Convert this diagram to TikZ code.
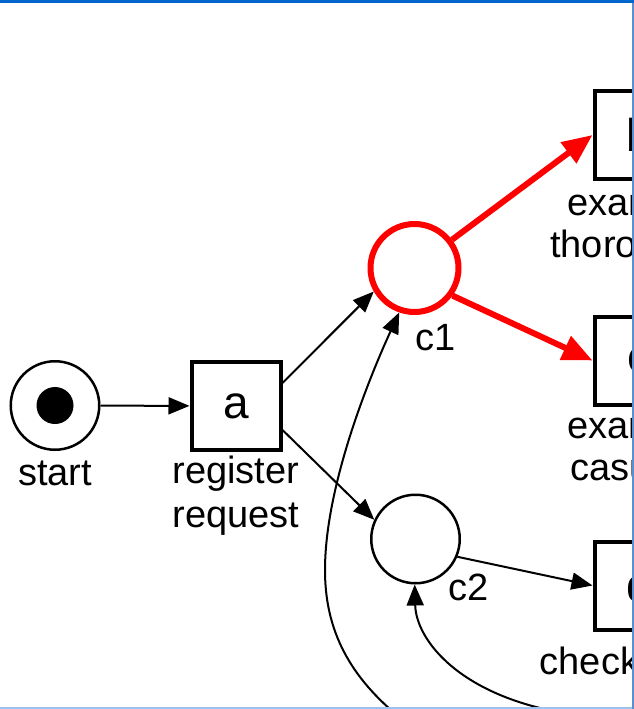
\documentclass[tikz,border=0pt]{standalone}
\usepackage{fontspec}
\setmainfont{Liberation Sans}
\usetikzlibrary{arrows.meta,calc}
\definecolor{topblue}{RGB}{0,102,204}
\definecolor{sideblue}{RGB}{90,143,208}
\definecolor{botblue}{RGB}{156,195,240}
\begin{document}
\begin{tikzpicture}[x=1pt,y=-1pt,
  place/.style={circle,draw,line width=2.5pt,minimum size=88.5pt,inner sep=0pt},
  redplace/.style={circle,draw=red,line width=6pt,minimum size=88pt,inner sep=0pt},
  trans/.style={rectangle,draw,line width=4pt,minimum width=89pt,minimum height=88pt,inner sep=0pt,font=\fontsize{46}{50}\selectfont},
  lbl/.style={font=\fontsize{38}{44}\selectfont,anchor=base,inner sep=0pt},
  arc/.style={line width=2pt,-{Triangle[length=21pt,width=17pt]}},
  redarc/.style={line width=6pt,draw=red,-{Triangle[length=30pt,width=25pt]}}]
\fill[white] (0,0) rectangle (634,709);
\begin{scope}
\clip (0,3) rectangle (632,707);
% places
\node[place] (start) at (55,405.5) {};
\node[circle,fill,inner sep=0pt,minimum size=37pt] (tok) at (start) {};
\node[redplace] (c1) at (414.5,268) {};
\node[place] (c2) at (415.5,539) {};
% transitions
\node[trans] (a) at (236,406) {a};
\node[trans] (b) at (639,135) {b};
\node[trans] (c) at (639,360.5) {c};
\node[trans] (d) at (639,585.5) {d};
% labels
\node[lbl] (lstart) at (55,485) {start};
\node[lbl] (la1) at (236,483) {register};
\node[lbl] (la2) at (236,527) {request};
\node[lbl] (lc1) at (436,350) {c1};
\node[lbl] (lc2) at (469,600) {c2};
\node[lbl] (lb1) at (639,215) {examine};
\node[lbl] (lb2) at (639,257) {thoroughly};
\node[lbl] (lcc1) at (639,438) {examine};
\node[lbl] (lcc2) at (639,480) {casually};
\node[lbl] (ld1) at (639,674) {check ticket};
% arcs
\draw[arc] (start) -- (a);
\draw[arc] ($(a.east)+(0,-23)$) -- (c1.210);
\draw[arc] ($(a.east)+(0,24)$) -- (c2.155);
\draw[arc] (c2.-23) -- (d.west);
\draw[redarc] (c1.37) -- (b.west);
\draw[redarc] (c1.-36) -- (c.west);
\coordinate (f1) at (398,716);
\coordinate (f2) at (570,714);
\draw[arc] (f1) .. controls (345,672) and (325,625) .. (325,570)
  .. controls (325,480) and (376,363) .. (c1.-109);
\draw[arc] (f2) .. controls (460,697) and (416,640) .. (c2.-91);
\end{scope}
\fill[topblue] (0,0) rectangle (634,3);
\fill[sideblue] (632,3) rectangle (633.5,709);
\fill[botblue] (0,707) rectangle (632,709);
\end{tikzpicture}
\end{document}
